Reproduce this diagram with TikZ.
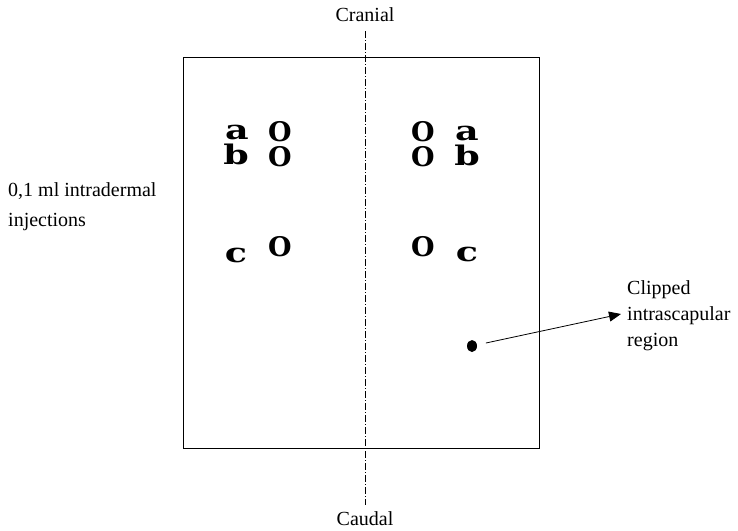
\documentclass[tikz,border=0pt]{standalone}
\usepackage{fontspec}
\setmainfont{Liberation Serif}
\newfontfamily\sitefont{DejaVu Serif}
\usetikzlibrary{arrows.meta,shapes.geometric}
\newcommand{\widesite}[1]{\scalebox{1.35}[1]{#1}}
\begin{document}
\begin{tikzpicture}[x=1pt,y=-1pt,
  lbl/.style={font=\fontsize{20}{26}\selectfont, inner sep=0pt},
  site/.style={font=\sitefont\bfseries\fontsize{27}{27}\selectfont, inner sep=0pt,
    text height=20pt, text depth=0pt, anchor=base},
  midline/.style={line width=0.7pt, dash pattern=on 7pt off 2pt on 1pt off 2pt},
  frame/.style={draw, line width=0.8pt, inner sep=0pt, minimum width=356pt, minimum height=391pt}]
\useasboundingbox (0,0) rectangle (738,530);

% skin area
\node[frame] (back) at (361,252.5) {};

% cranial-caudal midline
\coordinate (top) at (365,31);
\coordinate (bot) at (365,505);
\draw[midline] (top) -- (bot);
\node[lbl] (cranial) at (365,15) {Cranial};
\node[lbl] (caudal) at (365,519) {Caudal};

% injection sites, left side (positions are baselines)
\node[site] (la) at (237,139) {\widesite{a}};
\node[site] (lo1) at (280,141) {O};
\node[site] (lb) at (236,164) {\widesite{b}};
\node[site] (lo2) at (280,166) {O};
\node[site] (lc) at (236,262) {\widesite{c}};
\node[site] (lo3) at (280,256) {O};

% injection sites, right side
\node[site] (ro1) at (423,141) {O};
\node[site] (ra) at (467,140) {\widesite{a}};
\node[site] (ro2) at (423,166) {O};
\node[site] (rb) at (467,165) {\widesite{b}};
\node[site] (ro3) at (423,256) {O};
\node[site] (rc) at (467,261) {\widesite{c}};

% side label
\node[lbl, anchor=west, align=left, font=\fontsize{20}{30}\selectfont] (inj) at (8,207) {0,1 ml intradermal\\injections};

% clipped region marker
\node[ellipse, fill, inner sep=0pt, minimum width=10pt, minimum height=12pt] (dot) at (472,346) {};
\node[lbl, anchor=west, align=left] (clip) at (627,316) {Clipped\\intrascapular\\region};
\coordinate (tip) at (621,314);
\draw[line width=0.8pt, -{Triangle[length=12pt,width=10pt]}, shorten <=9pt] (dot) -- (tip);
\end{tikzpicture}
\end{document}
